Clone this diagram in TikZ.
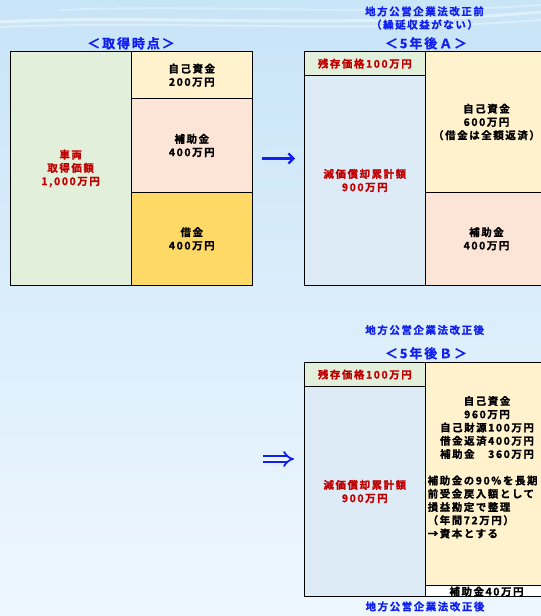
\documentclass[tikz,border=0pt]{standalone}
\usepackage{fontspec}
\usetikzlibrary{arrows.meta}
\newfontfamily\jp{Noto Sans CJK JP}[BoldFont={* Bold}, BoldFeatures={FakeBold=1.2}, LetterSpace=15]

\definecolor{bgtop}{RGB}{200,228,247}
\definecolor{bgbot}{RGB}{238,247,255}
\definecolor{assetgreen}{RGB}{226,239,218}
\definecolor{ownyellow}{RGB}{255,242,204}
\definecolor{subpink}{RGB}{252,228,214}
\definecolor{loangold}{RGB}{255,217,102}
\definecolor{deprblue}{RGB}{221,235,247}
\definecolor{ttlblue}{RGB}{16,32,240}
\definecolor{valred}{RGB}{192,0,0}

\tikzset{
  rule/.style={draw=black, line width=1.1bp, line cap=rect},
  txt/.style={font=\jp\bfseries\fontsize{10.5}{13.3}\selectfont, align=center, inner sep=0pt},
  redtxt/.style={txt, text=valred},
  ttl/.style={font=\jp\bfseries\fontsize{13}{14}\selectfont, text=ttlblue, inner sep=0pt},
  subttl/.style={font=\jp\bfseries\fontsize{10.5}{13.3}\selectfont, text=ttlblue, align=center, inner sep=0pt},
  arrowline/.style={draw=ttlblue, line width=2.2bp, -{Straight Barb[length=5bp,width=10bp]}},
  dblarrow/.style={draw=ttlblue, line width=1.8bp, double=bgbot, double distance=3.5bp, -{Implies}},
}

\begin{document}
\begin{tikzpicture}[x=1bp, y=-1bp]
  % background
  \shade[top color=bgtop, bottom color=bgbot] (0,0) rectangle (541,616);
  \useasboundingbox (0,0) rectangle (541,616);
  \draw[white, opacity=0.45, line width=3bp] (0,22) .. controls (150,14) and (330,30) .. (541,12);
  \draw[white, opacity=0.35, line width=2bp] (0,27) .. controls (180,20) and (360,34) .. (541,20);
  \draw[white, opacity=0.30, line width=2bp] (60,10) .. controls (200,4) and (380,16) .. (541,5);

  % ---- acquisition time ----
  \node[ttl] (t0) at (131,43.3) {＜取得時点＞};
  \fill[assetgreen] (10.4,51.7) rectangle (131.3,285.3);
  \fill[ownyellow] (131.3,51.7) rectangle (252.3,98.7);
  \fill[subpink] (131.3,98.7) rectangle (252.3,192.3);
  \fill[loangold] (131.3,192.3) rectangle (252.3,285.3);
  \draw[rule] (10.4,51.7) rectangle (252.3,285.3);
  \draw[rule] (131.3,51.7) -- (131.3,285.3);
  \draw[rule] (131.3,98.7) -- (252.3,98.7);
  \draw[rule] (131.3,192.3) -- (252.3,192.3);
  \node[redtxt] (vehicle) at (70.6,168.5) {車両\\取得価額\\1,000万円};
  \node[txt] (own0) at (191.8,75.2) {自己資金\\200万円};
  \node[txt] (sub0) at (191.8,145.5) {補助金\\400万円};
  \node[txt] (loan0) at (191.8,238.8) {借金\\400万円};

  % arrow to A
  \coordinate (arA0) at (262,158.5);
  \coordinate (arA1) at (295,158.5);
  \draw[arrowline] (arA0) -- (arA1);

  % ---- five years later A ----
  \node[subttl] (tA1) at (424.5,18) {地方公営企業法改正前\\（繰延収益がない）};
  \node[ttl] (tA2) at (426,43.3) {＜5年後Ａ＞};
  \fill[assetgreen] (304.3,51.7) rectangle (425.3,75.4);
  \fill[deprblue] (304.3,75.4) rectangle (425.3,285.3);
  \fill[ownyellow] (425.3,51.7) rectangle (548,192.3);
  \fill[subpink] (425.3,192.3) rectangle (548,285.3);
  \draw[rule] (304.3,51.7) rectangle (548,285.3);
  \draw[rule] (425.3,51.7) -- (425.3,285.3);
  \draw[rule] (304.3,75.4) -- (425.3,75.4);
  \draw[rule] (425.3,192.3) -- (548,192.3);
  \node[redtxt] (resA) at (364.8,63.6) {残存価格100万円};
  \node[redtxt] (depA) at (364.8,180.5) {減価償却累計額\\900万円};
  \node[txt] (ownA) at (486.5,122) {自己資金\\600万円\\（借金は全額返済）};
  \node[txt] (subA) at (486.5,238.8) {補助金\\400万円};

  % arrow to B
  \coordinate (arB0) at (263,459);
  \coordinate (arB1) at (294,459);
  \draw[dblarrow] (arB0) -- (arB1);

  % ---- five years later B ----
  \node[subttl] (tB1) at (424.7,330) {地方公営企業法改正後};
  \node[ttl] (tB2) at (426,353.3) {＜5年後Ｂ＞};
  \fill[assetgreen] (304.3,362.3) rectangle (425.3,386.3);
  \fill[deprblue] (304.3,386.3) rectangle (425.3,596.7);
  \fill[ownyellow] (425.3,362.3) rectangle (548,585.3);
  \fill[white] (425.3,585.3) rectangle (548,596.7);
  \draw[rule] (304.3,362.3) rectangle (548,596.7);
  \draw[rule] (425.3,362.3) -- (425.3,596.7);
  \draw[rule] (304.3,386.3) -- (425.3,386.3);
  \draw[rule] (425.3,585.3) -- (548,585.3);
  \node[redtxt] (resB) at (364.8,374.5) {残存価格100万円};
  \node[redtxt] (depB) at (364.8,491.5) {減価償却累計額\\900万円};
  \node[txt] (ownB) at (487,427.5) {自己資金\\960万円\\自己財源100万円\\借金返済400万円\\補助金　360万円};
  \node[txt, align=left, anchor=west] (noteB) at (427.5,507) {補助金の90\%を長期\\前受金戻入額として\\損益勘定で整理\\（年間72万円）\\→資本とする};
  \node[txt] (subB) at (486.5,591.5) {補助金40万円};
  \node[subttl] (tB3) at (425,606.5) {地方公営企業法改正後};
\end{tikzpicture}
\end{document}
